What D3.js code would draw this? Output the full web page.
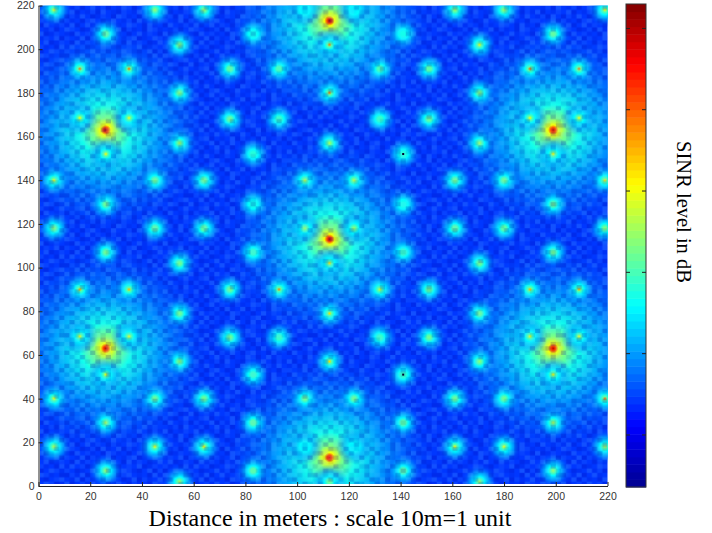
<!DOCTYPE html>
<html>
<head>
<meta charset="utf-8">
<script src="https://cdn.jsdelivr.net/npm/d3@7"></script>
<style>
body { margin: 0; background: #fff; overflow: hidden; }
text { font-family: "Liberation Sans", Arial, sans-serif; }
</style>
</head>
<body>
<script>
const xTicks = [0, 20, 40, 60, 80, 100, 120, 140, 160, 180, 200, 220]
const yTicks = [0, 20, 40, 60, 80, 100, 120, 140, 160, 180, 200, 220]
const barTicks = [20, 40, 60, 80, 100, 120]
const sinrRange = [7.2, 126]
const baseLevel = 28.5

// hot spots, row by row: y, then x and peak dB
const spotRows = [
    [218, [6, 45, 64, 103, 122, 161, 180, 219], [78, 70, 70, 50, 50, 70, 70, 80]],
    [207, [26, 83, 141, 199], [62, 54, 54, 64]],
    [202, [54.5, 112.5, 170.5], [68, 96, 80]],
    [191, [16, 35, 74, 93, 132, 151, 190, 209], [98, 98, 62, 60, 60, 62, 98, 98]],
    [180, [54.5, 112.5, 170.5], [68, 96, 68]],
    [168, [74, 93, 132, 151], [66, 58, 58, 66]],
    [157, [54.5, 112.5, 170.5], [72, 72, 72]],
    [168.5, [16, 35, 190, 209], [80, 80, 80, 80]],
    [152, [26, 83, 141, 199], [82, 56, 56, 82]],
    [140, [6, 45, 64, 103, 122, 161, 180, 219], [80, 66, 66, 74, 74, 66, 66, 84]],
    [129, [26, 83, 141, 199], [66, 54, 54, 66]],
    [118, [6, 45, 64, 103, 122, 161, 180, 219], [68, 62, 62, 70, 70, 62, 62, 68]],
    [107, [26, 83, 141, 199], [66, 58, 58, 66]],
    [102, [54.5, 112.5, 170.5], [66, 86, 66]],
    [90, [16, 35, 74, 93, 132, 151, 190, 209], [90, 90, 66, 96, 76, 66, 90, 90]],
    [79, [54.5, 112.5, 170.5], [66, 86, 66]],
    [68, [74, 93, 132, 151], [66, 58, 58, 66]],
    [68.5, [16, 35, 190, 209], [80, 80, 80, 80]],
    [57, [54.5, 112.5, 170.5], [68, 86, 68]],
    [51, [26, 83, 141, 199], [80, 58, 58, 80]],
    [40, [6, 45, 64, 103, 122, 161, 180, 219], [80, 66, 66, 66, 66, 66, 66, 98]],
    [29, [26, 83, 141, 199], [72, 62, 62, 72]],
    [18, [6, 45, 64, 103, 122, 161, 180, 219], [72, 80, 82, 50, 50, 80, 80, 72]],
    [7, [26, 83, 141, 199], [70, 62, 62, 70]],
    [2, [54.5, 112.5, 170.5], [72, 66, 72]]
]

// the seven strong transmitters with their wide halo
const bigX = [26, 199, 26, 199, 112.5, 112.5, 112.5]
const bigY = [163, 163, 63, 63, 113, 213, 13]
const bigPeak = [118, 118, 118, 118, 116, 118, 112]

// cells that drop to the bottom of the scale
const lowX = [141, 141]
const lowY = [152, 51]

// speckle of the 2 unit grid, 0 = darker cell ... 4 = lighter cell
const speckleRows = [
    '213042130241302143024132',
    '402132402130421032142031',
    '130420314201320431203142',
    '321403120342014213041203',
    '042131402413203124320412',
    '213024320130412403120431',
    '401321042312043120241320',
    '132403214031240213401243',
    '240132041320314204132014',
    '312041423012431023240132',
    '024313201241302143102403',
    '431200314024123034212041',
    '102342140312043201403124',
    '243014023142301420312043',
    '310242134021240312041230',
    '042130312403142034120412'
]

const jetStops = ['#00008f', '#0000ff', '#00ffff', '#ffff00', '#ff0000', '#800000']
const jet = d3.scaleLinear()
    .domain([0, 0.125, 0.375, 0.625, 0.875, 1].map(t => sinrRange[0] + t * (sinrRange[1] - sinrRange[0])))
    .range(jetStops)

const width = 712
const height = 533
const plot = { left: 38.5, right: 607.5, top: 5.5, bottom: 486 }
const bar = { left: 626, right: 646, top: 4, bottom: 487 }

const x = d3.scaleLinear().domain([0, 220]).range([plot.left, plot.right])
const y = d3.scaleLinear().domain([0, 220]).range([plot.bottom, plot.top])
const barY = d3.scaleLinear().domain(sinrRange).range([bar.bottom, bar.top])

const svg = d3.select('body').append('svg')
    .attr('width', width)
    .attr('height', height)
const defs = svg.append('defs')

defs.append('clipPath').attr('id', 'plotClip').append('rect')
    .attr('x', plot.left + 1.5)
    .attr('y', plot.top)
    .attr('width', plot.right - plot.left - 1)
    .attr('height', plot.bottom - plot.top - 2)
defs.append('clipPath').attr('id', 'barLabelClip').append('rect')
    .attr('x', bar.right)
    .attr('y', 0)
    .attr('width', 13.5)
    .attr('height', height)

const addGradient = (id, stops) => {
    const g = defs.append('radialGradient').attr('id', id)
    stops.forEach(s => g.append('stop')
        .attr('offset', s[0])
        .attr('stop-color', jet(s[1]))
        .attr('stop-opacity', s[2]))
}

const image = svg.append('g').attr('clip-path', 'url(#plotClip)')

image.append('rect')
    .attr('x', plot.left)
    .attr('y', plot.top)
    .attr('width', plot.right - plot.left)
    .attr('height', plot.bottom - plot.top)
    .attr('fill', jet(baseLevel))

// wide halos first, so the small spots sit on top
bigPeak.forEach((peak, i) => {
    addGradient('big' + i, [
        [0, peak, 1], [0.025, 102, 1], [0.05, 80, 1], [0.12, 66, 1], [0.25, 54, 1],
        [0.5, 43, 0.85], [0.8, 35, 0.45], [1, 30, 0]
    ])
    image.append('ellipse')
        .attr('cx', x(bigX[i]))
        .attr('cy', y(bigY[i]))
        .attr('rx', x(40) - x(0))
        .attr('ry', y(0) - y(46))
        .attr('fill', `url(#big${i})`)
})

spotRows.forEach((row, r) => {
    row[1].forEach((sx, i) => {
        const id = `spot${r}_${i}`
        addGradient(id, [
            [0, row[2][i], 1], [0.12, Math.min(row[2][i], 62), 1], [0.28, 51, 1],
            [0.55, 43, 0.7], [0.8, 36, 0.25], [1, 32, 0]
        ])
        image.append('ellipse')
            .attr('cx', x(sx))
            .attr('cy', y(row[0]))
            .attr('rx', x(7) - x(0))
            .attr('ry', y(0) - y(8))
            .attr('fill', `url(#${id})`)
    })
})

// speckle tile, drawn cell by cell with the data scales
const cellW = x(2) - x(0)
const cellH = y(0) - y(2)
const speckleFill = ['rgba(0,0,170,0.22)', 'rgba(0,0,170,0.10)', 'none', 'rgba(110,210,255,0.07)', 'rgba(110,210,255,0.16)']
const tile = defs.append('pattern')
    .attr('id', 'speckle')
    .attr('patternUnits', 'userSpaceOnUse')
    .attr('x', plot.left)
    .attr('y', plot.top)
    .attr('width', cellW * speckleRows[0].length)
    .attr('height', cellH * speckleRows.length)
speckleRows.forEach((s, j) => {
    tile.selectAll(null)
        .data(s.split('').map(Number))
        .enter().append('rect')
        .attr('x', (d, i) => i * cellW)
        .attr('y', j * cellH)
        .attr('width', cellW)
        .attr('height', cellH)
        .attr('fill', d => speckleFill[d])
})
image.append('rect')
    .attr('x', plot.left)
    .attr('y', plot.top)
    .attr('width', plot.right - plot.left)
    .attr('height', plot.bottom - plot.top)
    .attr('fill', 'url(#speckle)')

image.selectAll('.low')
    .data(lowX)
    .enter().append('rect')
    .attr('class', 'low')
    .attr('x', d => x(d) - 1)
    .attr('y', (d, i) => y(lowY[i]) - 1)
    .attr('width', 2)
    .attr('height', 2)
    .attr('fill', '#000030')

// axes: only left and bottom, ticks pointing inwards like matlab
const styleAxis = g => {
    g.selectAll('path').attr('stroke', '#222').attr('stroke-width', 1)
    g.selectAll('line').attr('stroke', '#222')
    g.selectAll('text').attr('fill', '#333').style('font-size', '10.5px')
        .style('font-family', '"Liberation Sans", Arial, sans-serif')
}

svg.append('g')
    .attr('transform', `translate(0,${plot.bottom})`)
    .call(d3.axisBottom(x).tickValues(xTicks).tickSize(-4).tickPadding(7).tickSizeOuter(0))
    .call(styleAxis)

svg.append('g')
    .attr('transform', `translate(${plot.left},0)`)
    .call(d3.axisLeft(y).tickValues(yTicks).tickSize(-4).tickPadding(4).tickSizeOuter(0))
    .call(styleAxis)

// colour bar, 64 steps as in the matlab colormap
const levels = d3.range(64)
const stepH = (bar.bottom - bar.top) / 64
svg.append('g').selectAll('rect')
    .data(levels)
    .enter().append('rect')
    .attr('x', bar.left)
    .attr('y', d => bar.bottom - (d + 1) * stepH)
    .attr('width', bar.right - bar.left)
    .attr('height', stepH + 0.5)
    .attr('fill', d => jet(sinrRange[0] + (d + 0.5) / 64 * (sinrRange[1] - sinrRange[0])))

svg.append('rect')
    .attr('x', bar.left)
    .attr('y', bar.top)
    .attr('width', bar.right - bar.left)
    .attr('height', bar.bottom - bar.top)
    .attr('fill', 'none')
    .attr('stroke', '#333')

const barAxis = svg.append('g')
    .attr('transform', `translate(${bar.right},0)`)
    .attr('clip-path', 'url(#barLabelClip)')
barAxis.append('g')
    .call(d3.axisRight(barY).tickValues(barTicks).tickSize(0).tickPadding(2))
    .call(styleAxis)
    .call(g => g.select('.domain').remove())

svg.append('g').selectAll('line')
    .data(barTicks)
    .enter().append('line')
    .attr('x1', bar.right - 4)
    .attr('x2', bar.right)
    .attr('y1', d => barY(d))
    .attr('y2', d => barY(d))
    .attr('stroke', '#222')
svg.append('g').selectAll('line')
    .data(barTicks)
    .enter().append('line')
    .attr('x1', bar.left)
    .attr('x2', bar.left + 4)
    .attr('y1', d => barY(d))
    .attr('y2', d => barY(d))
    .attr('stroke', '#222')

svg.append('text')
    .attr('x', 330)
    .attr('y', 526)
    .attr('text-anchor', 'middle')
    .style('font-family', '"Liberation Serif", "Times New Roman", serif')
    .style('font-size', '24px')
    .attr('fill', '#000')
    .text('Distance in meters : scale 10m=1 unit')

svg.append('text')
    .attr('transform', 'translate(677,212) rotate(90)')
    .attr('text-anchor', 'middle')
    .style('font-family', '"Liberation Serif", "Times New Roman", serif')
    .style('font-size', '20.5px')
    .attr('fill', '#000')
    .text('SINR level in dB')
</script>
</body>
</html>
